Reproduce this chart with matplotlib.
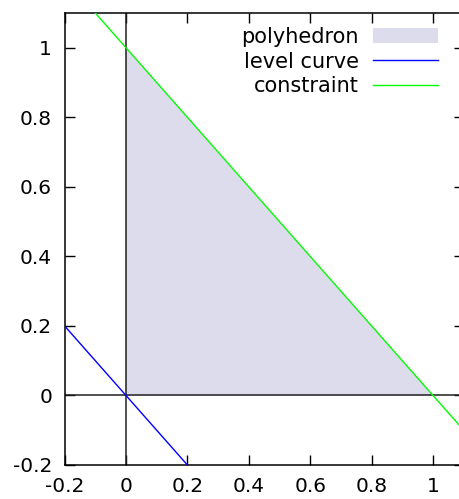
import matplotlib
matplotlib.use("Agg")
import matplotlib.pyplot as plt
import numpy as np

# polyhedron vertices, level curve and constraint segments
poly_x = [0, 1, 0]
poly_y = [0, 0, 1]
level_x = [-0.2, 0.2]
level_y = [0.2, -0.2]
constr_x = [-0.1, 1.1]
constr_y = [1.1, -0.1]
ticks = [-0.2, 0, 0.2, 0.4, 0.6, 0.8, 1]
tick_labels = ["-0.2", "0", "0.2", "0.4", "0.6", "0.8", "1"]

plt.rcParams['font.family'] = ['DejaVu Sans']
fig = plt.figure(figsize=(4.59, 4.99), dpi=100)
ax = fig.add_axes([64.6 / 459, 1 - 465 / 499, (463.7 - 64.6) / 459, (465 - 13) / 499])

ax.fill(poly_x, poly_y, color='#dcdcec', lw=0, label='polyhedron', zorder=1)
ax.axhline(0, color='#202020', lw=1.1, zorder=2)
ax.axvline(0, color='#202020', lw=1.1, zorder=2)
ax.plot(level_x, level_y, color='#0000ff', lw=1.0, label='level curve', zorder=3)
ax.plot(constr_x, constr_y, color='#00ff00', lw=1.0, label='constraint', zorder=3)

ax.set_xlim(-0.2, 1.1)
ax.set_ylim(-0.2, 1.1)
ax.set_xticks(ticks)
ax.set_xticklabels(tick_labels)
ax.set_yticks(ticks)
ax.set_yticklabels(tick_labels)
ax.tick_params(direction='in', top=True, right=True, length=7, width=1,
               labelsize=14.5, pad=9)
for s in ax.spines.values():
    s.set_linewidth(1.1)

ax.legend(loc='upper right', bbox_to_anchor=(438 / 459, 1 - 27 / 499),
          bbox_transform=fig.transFigure, frameon=False, markerfirst=False,
          fontsize=15, handlelength=3.1, borderpad=0, borderaxespad=0,
          labelspacing=0.22, handletextpad=0.7)
for t in ax.get_legend().get_texts():
    t.set_ha('right')

fig.savefig("out.png", dpi=100)
